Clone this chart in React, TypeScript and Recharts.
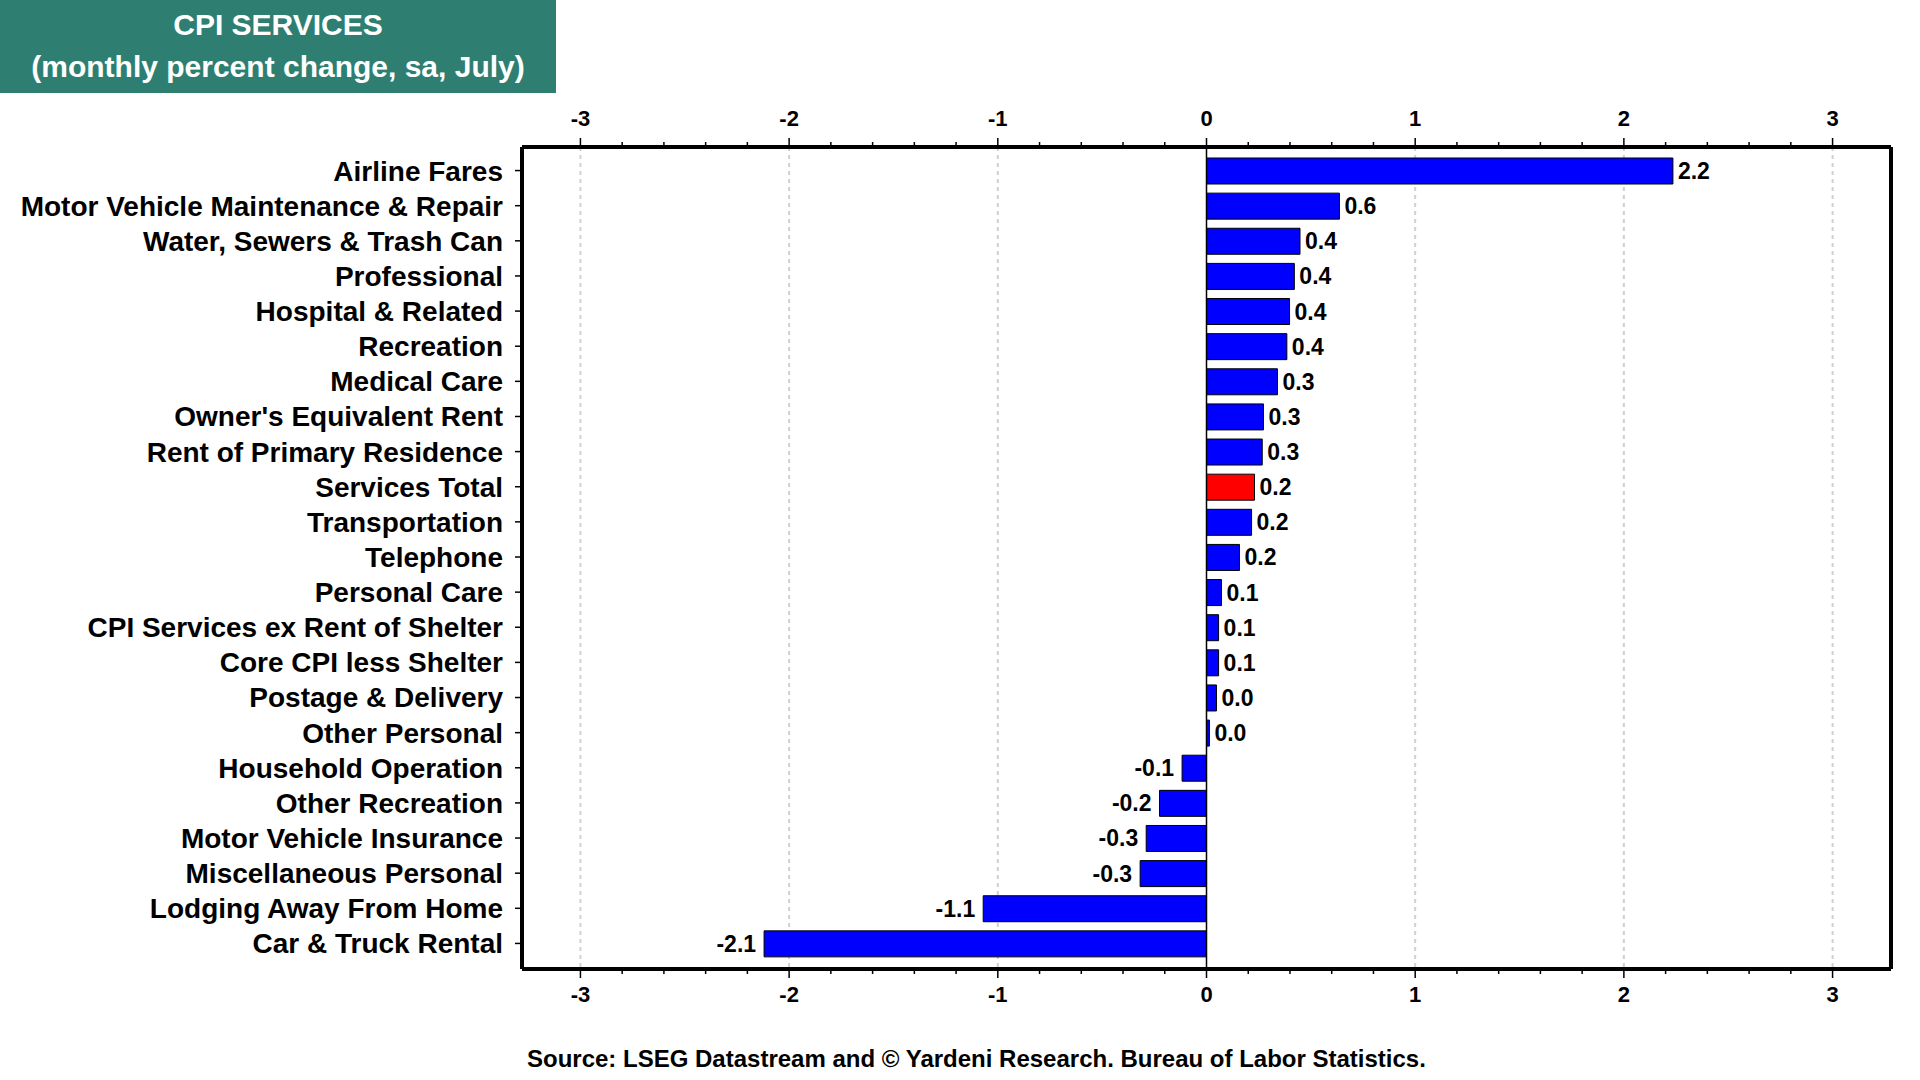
import React from 'react';
import { BarChart, Bar, XAxis, YAxis, Cell, LabelList, ReferenceLine, CartesianGrid } from 'recharts';

const categories = [
  'Airline Fares',
  'Motor Vehicle Maintenance & Repair',
  'Water, Sewers & Trash Can',
  'Professional',
  'Hospital & Related',
  'Recreation',
  'Medical Care',
  "Owner's Equivalent Rent",
  'Rent of Primary Residence',
  'Services Total',
  'Transportation',
  'Telephone',
  'Personal Care',
  'CPI Services ex Rent of Shelter',
  'Core CPI less Shelter',
  'Postage & Delivery',
  'Other Personal',
  'Household Operation',
  'Other Recreation',
  'Motor Vehicle Insurance',
  'Miscellaneous Personal',
  'Lodging Away From Home',
  'Car & Truck Rental',
];

const values = [
  2.235, 0.637, 0.448, 0.421, 0.398, 0.385, 0.34, 0.273, 0.267, 0.23, 0.216, 0.158,
  0.072, 0.058, 0.058, 0.048, 0.014, -0.117, -0.225, -0.289, -0.318, -1.07, -2.12,
];

const highlighted = 'Services Total';

const majorTicks = [-3, -2, -1, 0, 1, 2, 3];
const gridValues = [-3, -2, -1, 1, 2, 3];
const allTicks = [
  -3, -2.8, -2.6, -2.4, -2.2, -2, -1.8, -1.6, -1.4, -1.2, -1, -0.8, -0.6, -0.4, -0.2, 0,
  0.2, 0.4, 0.6, 0.8, 1, 1.2, 1.4, 1.6, 1.8, 2, 2.2, 2.4, 2.6, 2.8, 3,
];

const FONT = '"Liberation Sans", Arial, Helvetica, sans-serif';

const data = categories.map((name, i) => ({ name, value: values[i] }));

// tick for the top / bottom value axes: long marks + label on integers, short marks between
const makeTick = (side: 'top' | 'bottom') => (props: any) => {
  const { x, y, payload } = props;
  const v = payload.value;
  const major = majorTicks.includes(v);
  const dir = side === 'top' ? -1 : 1;
  const len = major ? 9 : 5;
  return (
    <g>
      <line x1={x} x2={x} y1={y} y2={y + dir * len} stroke="#000" strokeWidth={1.5} />
      {major && (
        <text
          x={x}
          y={side === 'top' ? y - 29 : y + 25}
          textAnchor="middle"
          dominantBaseline="central"
          fontFamily={FONT}
          fontWeight="bold"
          fontSize={22}
          fill="#000"
        >
          {v}
        </text>
      )}
    </g>
  );
};

const ValueLabel = (props: any) => {
  const { x, y, width, height, value } = props;
  const left = Math.min(x, x + width);
  const right = Math.max(x, x + width);
  const neg = value < 0;
  return (
    <text
      x={neg ? left - 8 : right + 5}
      y={y + height / 2}
      textAnchor={neg ? 'end' : 'start'}
      dominantBaseline="central"
      fontFamily={FONT}
      fontWeight="bold"
      fontSize={23}
      fill="#000"
    >
      {Number(value).toFixed(1)}
    </text>
  );
};

export default function App() {
  return (
    <div style={{ position: 'absolute', left: 0, top: 0, width: 1920, height: 1080, background: '#fff' }}>
      <BarChart
        width={1920}
        height={1080}
        data={data}
        layout="vertical"
        margin={{ top: 0, right: 28, bottom: 0, left: 0 }}
        barSize={26}
      >
        <CartesianGrid
          xAxisId="bottom"
          yAxisId="left"
          horizontal={false}
          verticalValues={gridValues}
          stroke="#d0d0d0"
          strokeWidth={2}
          strokeDasharray="4 4"
        />
        <XAxis
          xAxisId="top"
          orientation="top"
          type="number"
          domain={[-3.28, 3.28]}
          allowDataOverflow
          ticks={allTicks}
          interval={0}
          height={147}
          tickSize={0}
          tickMargin={0}
          tickLine={false}
          tick={makeTick('top')}
          axisLine={{ stroke: '#000', strokeWidth: 4 }}
        />
        <XAxis
          xAxisId="bottom"
          orientation="bottom"
          type="number"
          domain={[-3.28, 3.28]}
          allowDataOverflow
          ticks={allTicks}
          interval={0}
          height={111}
          tickSize={0}
          tickMargin={0}
          tickLine={false}
          tick={makeTick('bottom')}
          axisLine={{ stroke: '#000', strokeWidth: 4 }}
        />
        <YAxis
          yAxisId="left"
          type="category"
          dataKey="name"
          width={522}
          interval={0}
          padding={{ top: 6, bottom: 8 }}
          tickSize={7}
          tickMargin={12}
          tickLine={{ stroke: '#000', strokeWidth: 1.5 }}
          axisLine={{ stroke: '#000', strokeWidth: 4 }}
          tick={{ fontFamily: FONT, fontWeight: 'bold', fontSize: 28, fill: '#000' }}
        />
        <YAxis
          yAxisId="right"
          orientation="right"
          type="category"
          dataKey="name"
          width={1}
          tick={false}
          tickLine={false}
          axisLine={{ stroke: '#000', strokeWidth: 4 }}
        />
        <Bar
          dataKey="value"
          xAxisId="bottom"
          yAxisId="left"
          stroke="#000"
          strokeWidth={1}
          isAnimationActive={false}
        >
          {data.map((d) => (
            <Cell key={d.name} fill={d.name === highlighted ? '#ff0000' : '#0000ff'} />
          ))}
          <LabelList dataKey="value" content={<ValueLabel />} />
        </Bar>
        <ReferenceLine x={0} xAxisId="bottom" yAxisId="left" stroke="#000" strokeWidth={1.5} />
      </BarChart>

      {/* title box */}
      <div
        style={{
          position: 'absolute',
          left: 0,
          top: 0,
          width: 556,
          height: 93,
          background: '#2e7f71',
          color: '#fff',
          fontFamily: FONT,
          fontWeight: 'bold',
          fontSize: 30,
          lineHeight: '42px',
          textAlign: 'center',
          paddingTop: 4,
          boxSizing: 'border-box',
        }}
      >
        <div>CPI SERVICES</div>
        <div>(monthly percent change, sa, July)</div>
      </div>

      <div
        style={{
          position: 'absolute',
          left: 527,
          top: 1045,
          fontFamily: FONT,
          fontWeight: 'bold',
          fontSize: 24,
          color: '#000',
          whiteSpace: 'nowrap',
        }}
      >
        Source: LSEG Datastream and © Yardeni Research. Bureau of Labor Statistics.
      </div>
    </div>
  );
}
